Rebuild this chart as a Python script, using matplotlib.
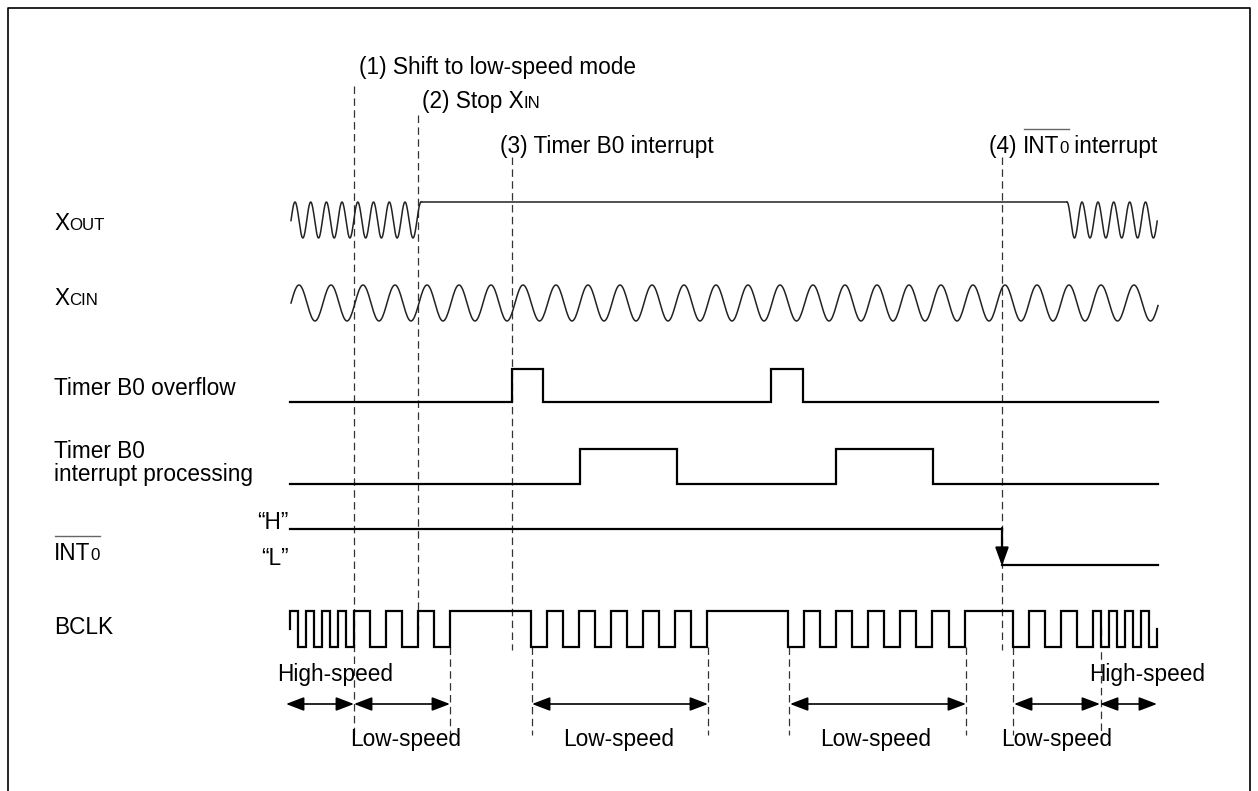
import numpy as np
import matplotlib.pyplot as plt

plt.rcParams['font.family'] = ['Liberation Sans', 'DejaVu Sans']

# --- values (pixel positions along the time axis) ---
xout_peaks_a = [295, 310.7, 326.4, 342, 357.8, 373.5, 389.3, 405, 421]
xout_peaks_b = [1067, 1082, 1098, 1113.7, 1129.7, 1145.5]
xcin_peaks = [299, 331, 363, 395, 427, 459, 491, 523, 556, 588, 620, 652, 684,
              716, 748, 780, 813, 845, 877, 909, 941, 973, 1005, 1037, 1069,
              1101, 1134]
bclk_edges = [298, 306, 314, 322, 330, 338, 346, 354,
              370, 386, 402, 418, 434, 450,
              531, 547, 563, 579, 595, 611, 627, 643, 659, 675, 691, 707,
              788, 804, 820, 836, 852, 868, 884, 900, 916, 932, 949, 965,
              1013, 1029, 1045, 1061, 1077, 1093,
              1101, 1109, 1117, 1125, 1133, 1141, 1149]
ovf_pulses = [(512, 543), (771, 803)]
proc_pulses = [(580, 677), (836, 933)]
int0_fall = 1002
t_start, t_end = 290, 1158

event_x = [354, 418, 512, 1002]
span_x = [(286, 354), (354, 450), (532, 708), (790, 966), (1014, 1100), (1100, 1157)]
speed_text = ['Low-speed', 'Low-speed', 'Low-speed', 'Low-speed']
speed_text_x = [406, 619, 876, 1057]
guide_x = [450, 532, 708, 789, 966, 1013, 1101]

FS = 16.3
FS_S = 12.2
LX = 54

fig = plt.figure(figsize=(12.58, 7.91), dpi=100)
ax = fig.add_axes([0, 0, 1, 1])
ax.set_xlim(0, 1258)
ax.set_ylim(791, 0)
ax.axis('off')
rend = fig.canvas.get_renderer()


def twidth(s, sz):
    t1 = ax.text(0, 0, s + '|', fontsize=sz)
    t2 = ax.text(0, 0, '|', fontsize=sz)
    w = t1.get_window_extent(rend).width - t2.get_window_extent(rend).width
    t1.remove()
    t2.remove()
    return w


def rich(x, y, parts, bar=None):
    cx = x
    x0 = None
    for s, sz, over in parts:
        if over and x0 is None:
            x0 = cx
        ax.text(cx, y, s, fontsize=sz, va='baseline', ha='left')
        cx += twidth(s, sz)
        if over:
            x1 = cx
    if bar is not None:
        ax.plot([x0 + 1, x1], [y - bar, y - bar], color='#666', lw=1.0)


def wave(peaks, start, end, mid, amp, **kw):
    xs, ys = [], []
    T = peaks[1] - peaks[0]
    x = np.linspace(start, peaks[0], 15)
    xs.append(x)
    ys.append(mid - amp * np.cos(2 * np.pi * (x - peaks[0]) / T))
    for a, b in zip(peaks[:-1], peaks[1:]):
        x = np.linspace(a, b, 40)
        xs.append(x)
        ys.append(mid - amp * np.cos(2 * np.pi * (x - a) / (b - a)))
    if end > peaks[-1]:
        T = peaks[-1] - peaks[-2]
        x = np.linspace(peaks[-1], end, 30)
        xs.append(x)
        ys.append(mid - amp * np.cos(2 * np.pi * (x - peaks[-1]) / T))
    ax.plot(np.concatenate(xs), np.concatenate(ys), **kw)


def pulses(lst, lo, hi):
    xs, ys = [t_start], [lo]
    for a, b in lst:
        xs += [a, a, b, b]
        ys += [lo, hi, hi, lo]
    xs.append(t_end)
    ys.append(lo)
    ax.plot(xs, ys, color='black', lw=1.6, solid_joinstyle='miter')


# frame
ax.plot([8, 8, 1250, 1250], [800, 8, 8, 800], color='black', lw=1.2)

# dashed guides
dash = dict(color='#333', lw=0.9, ls=(0, (6, 3.5)))
for x, y0, y1 in zip(event_x, [86, 115, 157, 157], [735, 630, 650, 650]):
    ax.plot([x, x], [y0, y1], **dash)
for x in guide_x:
    ax.plot([x, x], [628 if x == 1101 else 647, 735], **dash)

# XOUT
sine_kw = dict(color='#222', lw=1.1)
wave(xout_peaks_a, 291, xout_peaks_a[-1], 220, 18, **sine_kw)
ax.plot([xout_peaks_a[-1], xout_peaks_b[0]], [202, 202], **sine_kw)
wave(xout_peaks_b, xout_peaks_b[0], 1157.2, 220, 18, **sine_kw)

# XCIN
wave(xcin_peaks, 291, 1158, 303, 18, **sine_kw)

# Timer B0 overflow / interrupt processing
pulses(ovf_pulses, 402, 369)
pulses(proc_pulses, 484, 449)

# INT0
ax.plot([t_start, int0_fall], [529, 529], color='black', lw=1.6)
ax.annotate('', xy=(int0_fall, 566), xytext=(int0_fall, 528),
            arrowprops=dict(arrowstyle='-|>,head_length=1.1,head_width=0.4',
                            mutation_scale=10, color='black', lw=1.6,
                            shrinkA=0, shrinkB=0))
ax.plot([int0_fall, t_end], [565, 565], color='black', lw=1.6)

# BCLK
hi, lo, md = 611, 647, 629
bx, by = [t_start, t_start], [md, hi]
level = hi
for e in bclk_edges:
    bx += [e, e]
    nxt = lo if level == hi else hi
    by += [level, nxt]
    level = nxt
bx += [1157, 1157]
by += [level, md]
ax.plot(bx, by, color='black', lw=1.6, solid_joinstyle='miter')

# speed arrows
for a, b in span_x:
    ax.annotate('', xy=(b, 704), xytext=(a, 704),
                arrowprops=dict(arrowstyle='<|-|>,head_length=1.1,head_width=0.42',
                                mutation_scale=10, color='black', lw=1.2,
                                shrinkA=0, shrinkB=0))
ax.text(277, 681, 'High-speed', fontsize=FS, va='baseline', ha='left')
ax.text(1089, 681, 'High-speed', fontsize=FS, va='baseline', ha='left')
for s, x in zip(speed_text, speed_text_x):
    ax.text(x, 746, s, fontsize=FS, va='baseline', ha='center')

# event annotations
ax.text(359, 74, '(1) Shift to low-speed mode', fontsize=FS, va='baseline')
rich(422, 108, [('(2) Stop X', FS, False), ('IN', FS_S, False)])
ax.text(500, 153, '(3) Timer B0 interrupt', fontsize=FS, va='baseline')
rich(989, 153, [('(4) ', FS, False), ('INT', FS, True), ('0', FS_S, True),
                (' interrupt', FS, False)], bar=24)

# signal names
rich(LX, 230, [('X', FS, False), ('OUT', FS_S, False)])
rich(LX, 305, [('X', FS, False), ('CIN', FS_S, False)])
ax.text(LX, 395, 'Timer B0 overflow', fontsize=FS, va='baseline')
ax.text(LX, 458, 'Timer B0', fontsize=FS, va='baseline')
ax.text(LX, 481, 'interrupt processing', fontsize=FS, va='baseline')
rich(LX, 560, [('INT', FS, True), ('0', FS_S, True)], bar=24)
ax.text(LX, 634, 'BCLK', fontsize=FS, va='baseline')
ax.text(289, 529, '\u201cH\u201d', fontsize=FS, va='baseline', ha='right')
ax.text(289, 565, '\u201cL\u201d', fontsize=FS, va='baseline', ha='right')

fig.savefig('out.png', dpi=100)
